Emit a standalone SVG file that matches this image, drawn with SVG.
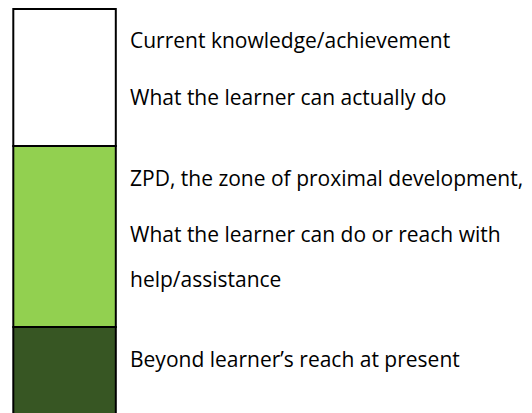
<svg xmlns="http://www.w3.org/2000/svg" width="532" height="413" viewBox="0 0 532 413">
  <style>
    .band { stroke: #000; stroke-width: 2; }
    .lbl { font-family: "Open Sans", "Noto Sans", "Liberation Sans", sans-serif; font-size: 21px; fill: #000; }
  </style>
  <rect width="532" height="413" fill="#fff"/>
  <g id="current">
    <rect class="band" x="13.3" y="9" width="102.5" height="137" fill="#ffffff"/>
    <text class="lbl" x="130" y="47.5">Current knowledge/achievement</text>
    <text class="lbl" x="130" y="104.5">What the learner can actually do</text>
  </g>
  <g id="zpd">
    <rect class="band" x="13.3" y="146" width="102.5" height="181" fill="#92d050"/>
    <text class="lbl" x="130" y="186">ZPD, the zone of proximal development,</text>
    <text class="lbl" x="130" y="241.5">What the learner can do or reach with</text>
    <text class="lbl" x="130" y="287">help/assistance</text>
  </g>
  <g id="beyond">
    <rect class="band" x="13.3" y="327" width="102.5" height="100" fill="#375623"/>
    <text class="lbl" x="130" y="367">Beyond learner’s reach at present</text>
  </g>
</svg>
